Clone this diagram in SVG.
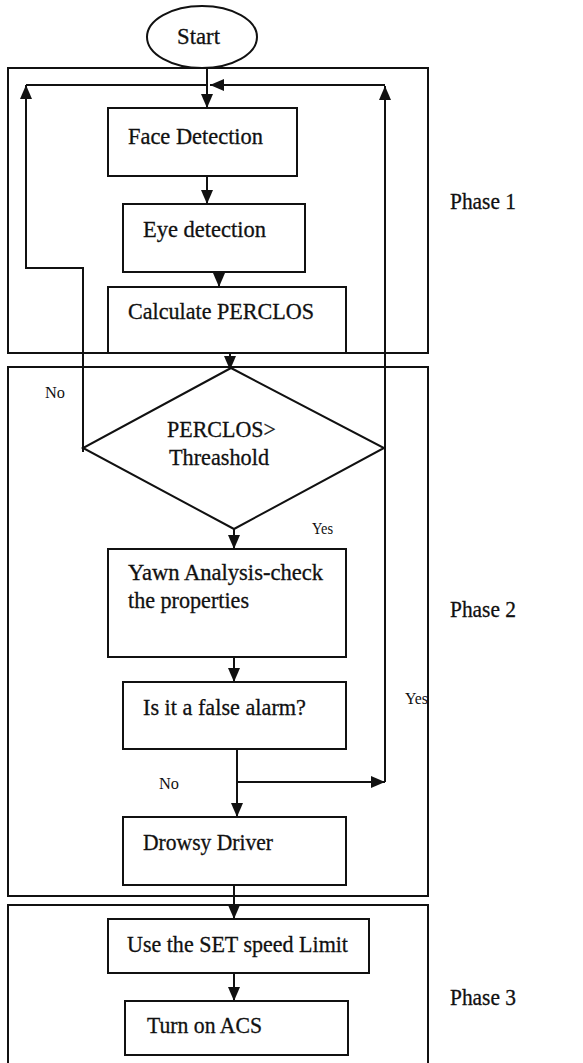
<svg xmlns="http://www.w3.org/2000/svg" width="583" height="1063" viewBox="0 0 583 1063">
  <style>
    .box { fill: #fff; stroke: #111; stroke-width: 2; }
    .phase { fill: none; stroke: #111; stroke-width: 2; }
    .wire { fill: none; stroke: #111; stroke-width: 2; }
    .lbl { font-family: "Liberation Serif", "DejaVu Serif", serif; font-size: 23px; fill: #111; stroke: #111; stroke-width: 0.3; }
    .sm { font-family: "Liberation Serif", "DejaVu Serif", serif; font-size: 16px; fill: #111; }
  </style>
  <defs>
    <marker id="head" viewBox="0 0 14 12" refX="14" refY="6" markerWidth="14" markerHeight="12" markerUnits="userSpaceOnUse" orient="auto">
      <path d="M0,0 L14,6 L0,12 Z" fill="#111"/>
    </marker>
  </defs>
  <rect width="583" height="1063" fill="#fff"/>

  <!-- phase frames -->
  <g id="phase1">
    <rect class="phase" x="8" y="68" width="420" height="285"/>
    <text class="lbl" x="450" y="209" textLength="66" lengthAdjust="spacingAndGlyphs">Phase 1</text>
  </g>
  <g id="phase2">
    <rect class="phase" x="8" y="367" width="420" height="529"/>
    <text class="lbl" x="450" y="617" textLength="66" lengthAdjust="spacingAndGlyphs">Phase 2</text>
  </g>
  <g id="phase3">
    <rect class="phase" x="8" y="905" width="420" height="170"/>
    <text class="lbl" x="450" y="1005" textLength="66" lengthAdjust="spacingAndGlyphs">Phase 3</text>
  </g>

  <!-- connectors -->
  <g id="connectors">
    <path class="wire" d="M207,68 V108" marker-end="url(#head)"/>
    <path class="wire" d="M207,176 V204" marker-end="url(#head)"/>
    <path class="wire" d="M219,272 V287" marker-end="url(#head)"/>
    <path class="wire" d="M230,346 V370" marker-end="url(#head)"/>
    <path class="wire" d="M234,522 V549" marker-end="url(#head)"/>
    <path class="wire" d="M234,657 V682" marker-end="url(#head)"/>
    <path class="wire" d="M237,749 V817" marker-end="url(#head)"/>
    <path class="wire" d="M234,885 V919" marker-end="url(#head)"/>
    <path class="wire" d="M234,973 V1001" marker-end="url(#head)"/>
    <!-- "No" loop back to face detection -->
    <path class="wire" d="M83,452 V268 H26 V85" marker-end="url(#head)"/>
    <path class="wire" d="M26,85 H207"/>
    <!-- false alarm "Yes" loop -->
    <path class="wire" d="M237,782 H385" marker-end="url(#head)"/>
    <path class="wire" d="M385,782 V86" marker-end="url(#head)"/>
    <path class="wire" d="M385,85 H210" marker-end="url(#head)"/>
    <text class="sm" x="45" y="398" textLength="20" lengthAdjust="spacingAndGlyphs">No</text>
    <text class="sm" x="312" y="534" textLength="21" lengthAdjust="spacingAndGlyphs">Yes</text>
    <text class="sm" x="159" y="789" textLength="20" lengthAdjust="spacingAndGlyphs">No</text>
    <text class="sm" x="405" y="704" textLength="23" lengthAdjust="spacingAndGlyphs">Yes</text>
  </g>

  <!-- nodes -->
  <g id="start">
    <ellipse class="box" cx="202" cy="37" rx="55" ry="31"/>
    <text class="lbl" x="177" y="44" textLength="43" lengthAdjust="spacingAndGlyphs">Start</text>
  </g>
  <g id="face">
    <rect class="box" x="108" y="108" width="189" height="68"/>
    <text class="lbl" x="128" y="144" textLength="135" lengthAdjust="spacingAndGlyphs">Face Detection</text>
  </g>
  <g id="eye">
    <rect class="box" x="123" y="204" width="182" height="68"/>
    <text class="lbl" x="143" y="237" textLength="123" lengthAdjust="spacingAndGlyphs">Eye detection</text>
  </g>
  <g id="perclos">
    <rect class="box" x="108" y="287" width="238" height="66"/>
    <text class="lbl" x="128" y="319" textLength="186" lengthAdjust="spacingAndGlyphs">Calculate PERCLOS</text>
  </g>
  <g id="decision">
    <polygon class="box" points="231,368 384,448 234,529 83,448"/>
    <text class="lbl" x="167" y="437" textLength="109" lengthAdjust="spacingAndGlyphs">PERCLOS&gt;</text>
    <text class="lbl" x="169" y="465" textLength="100" lengthAdjust="spacingAndGlyphs">Threashold</text>
  </g>
  <g id="yawn">
    <rect class="box" x="108" y="549" width="238" height="108"/>
    <text class="lbl" x="128" y="580" textLength="195" lengthAdjust="spacingAndGlyphs">Yawn Analysis-check</text>
    <text class="lbl" x="128" y="608" textLength="121" lengthAdjust="spacingAndGlyphs">the properties</text>
  </g>
  <g id="false-alarm">
    <rect class="box" x="123" y="682" width="223" height="67"/>
    <text class="lbl" x="143" y="715" textLength="163" lengthAdjust="spacingAndGlyphs">Is it a false alarm?</text>
  </g>
  <g id="drowsy">
    <rect class="box" x="123" y="817" width="223" height="68"/>
    <text class="lbl" x="143" y="850" textLength="130" lengthAdjust="spacingAndGlyphs">Drowsy Driver</text>
  </g>
  <g id="speed-limit">
    <rect class="box" x="108" y="919" width="261" height="54"/>
    <text class="lbl" x="127" y="952" textLength="221" lengthAdjust="spacingAndGlyphs">Use the SET speed Limit</text>
  </g>
  <g id="acs">
    <rect class="box" x="125" y="1001" width="223" height="54"/>
    <text class="lbl" x="147" y="1033" textLength="115" lengthAdjust="spacingAndGlyphs">Turn on ACS</text>
  </g>
</svg>
